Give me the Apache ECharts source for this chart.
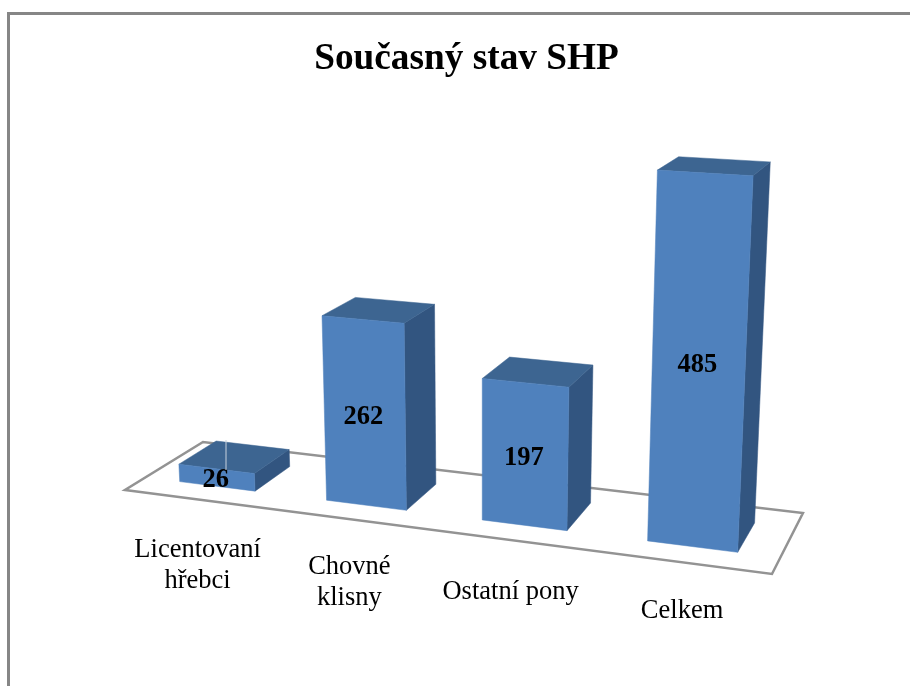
<!DOCTYPE html>
<html>
<head>
<meta charset="utf-8">
<style>html,body{margin:0;padding:0;background:#fff}#c{width:910px;height:686px}</style>
<script src="https://cdn.jsdelivr.net/npm/echarts@6/dist/echarts.min.js"></script>
</head>
<body>
<div id="c"></div>
<script>
const titleText = 'Současný stav SHP';
const categories = ['Licentovaní\nhřebci', 'Chovné\nklisny', 'Ostatní pony', 'Celkem'];
const values = [26, 262, 197, 485];

// Camera: homogeneous matrix of the floor plane + vertical vanishing point
const FLOOR = { a: 558.2, b: 95.1, c: 125, d: 18, e: -10.7, f: 490, g: -0.115, h: 0.0843 };
const VANISH = { x: 482, y: 6800, k: -0.0535 };
const BAR_WIDTH = 0.52, DEPTH_FRONT = 0.25, DEPTH_BACK = 0.74;
const LABEL_DROP = [66, 63, 52, 49];
const VALUE_NUDGE = [3, 3, 3, 0];
const SERIF = '"Liberation Serif","Times New Roman",serif';
const COLORS = { front: '#4f81bd', top: '#3d6591', side: '#325580', floor: '#939393', frame: '#868686' };

function project(u, v, t) {
  const X = FLOOR.a * u + FLOOR.b * v + FLOOR.c;
  const Y = FLOOR.d * u + FLOOR.e * v + FLOOR.f;
  const W = FLOOR.g * u + FLOOR.h * v + 1;
  const m = VANISH.k * t;
  const w = W + m;
  return [(X + m * VANISH.x) / w, (Y + m * VANISH.y) / w];
}
const face = (pts, fill) => ({ type: 'polygon', shape: { points: pts }, style: { fill: fill, stroke: fill, lineWidth: 0.5 }, silent: true });

function renderBar(params, api) {
  const cs = params.coordSys;
  const p = api.coord([api.value(0), api.value(1)]);
  const i = params.dataIndex;
  const u = (p[0] - cs.x) / cs.width;
  const t = (cs.y + cs.height - p[1]) / cs.height;
  const half = BAR_WIDTH * api.size([1, 0])[0] / cs.width / 2;
  const l = u - half, r = u + half, f = DEPTH_FRONT, b = DEPTH_BACK;
  const centre = project(u, f, t / 2);
  const anchor = project(u, 0, 0);
  return {
    type: 'group',
    children: [
      face([project(r, f, 0), project(r, b, 0), project(r, b, t), project(r, f, t)], COLORS.side),
      face([project(l, f, t), project(r, f, t), project(r, b, t), project(l, b, t)], COLORS.top),
      face([project(l, f, 0), project(r, f, 0), project(r, f, t), project(l, f, t)], COLORS.front),
      { type: 'text', silent: true, style: {
          text: String(values[i]), x: centre[0] - 1, y: centre[1] + VALUE_NUDGE[i], fill: '#000',
          font: 'bold 26.5px ' + SERIF, textAlign: 'center', textVerticalAlign: 'middle', align: 'center', verticalAlign: 'middle' } },
      { type: 'text', silent: true, style: {
          text: categories[i], x: anchor[0], y: anchor[1] + LABEL_DROP[i], fill: '#000', lineHeight: 31,
          font: '26.5px ' + SERIF, textAlign: 'center', textVerticalAlign: 'middle', align: 'center', verticalAlign: 'middle' } }
    ]
  };
}
function renderFloor() {
  return { type: 'polygon', silent: true,
    shape: { points: [project(0, 0, 0), project(1, 0, 0), project(1, 1, 0), project(0, 1, 0)] },
    style: { fill: '#fff', stroke: COLORS.floor, lineWidth: 2.5 } };
}

const chart = echarts.init(document.getElementById('c'), null, { renderer: 'canvas' });
chart.setOption({
  animation: false,
  backgroundColor: '#fff',
  title: { text: titleText, left: 461.5, top: 36, textAlign: 'center',
    textStyle: { fontFamily: SERIF, fontWeight: 'bold', fontSize: 37.3, color: '#000' } },
  grid: { left: 100, right: 100, top: 100, bottom: 100 },
  xAxis: { type: 'category', data: categories, show: false },
  yAxis: { type: 'value', min: 0, max: 500, interval: 100, show: false },
  graphic: [
    { type: 'line', silent: true, z: 0, shape: { x1: 8.5, y1: 12, x2: 8.5, y2: 690 }, style: { stroke: COLORS.frame, lineWidth: 3 } },
    { type: 'line', silent: true, z: 0, shape: { x1: 7, y1: 13.5, x2: 915, y2: 13.5 }, style: { stroke: COLORS.frame, lineWidth: 3 } },
    // thin light seam that crosses the first bar's top in the original
    { type: 'line', silent: true, z: 10, shape: { x1: 226, y1: 440, x2: 226, y2: 470 }, style: { stroke: '#c9d3de', lineWidth: 1 } }
  ],
  series: [
    { type: 'custom', silent: true, z: 1, renderItem: renderFloor, data: [[0, 0]], encode: { x: 0, y: 1 } },
    { type: 'custom', silent: true, z: 2, renderItem: renderBar,
      data: values.map((v, i) => [i, v]), encode: { x: 0, y: 1 } }
  ]
});
</script>
</body>
</html>
